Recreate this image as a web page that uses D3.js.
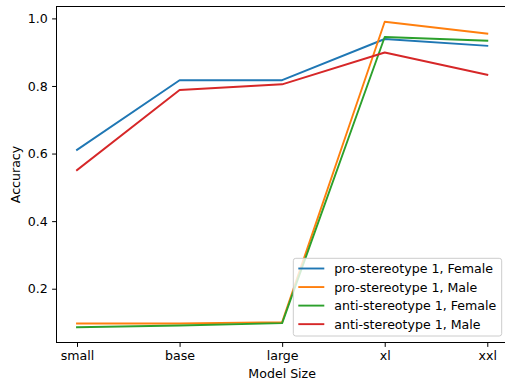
<!DOCTYPE html>
<html>
<head>
<meta charset="utf-8">
<script src="https://cdn.jsdelivr.net/npm/d3@7"></script>
<style>
  html, body { margin: 0; padding: 0; background: #fff; }
  svg { display: block; font-family: "DejaVu Sans", sans-serif; }
</style>
</head>
<body>
<svg id="chart" width="505" height="385"></svg>
<script>
// Model sizes along the x axis
const categories = ["small", "base", "large", "xl", "xxl"];

// Accuracy per model size for each group
const proFemale  = [0.611, 0.817, 0.817, 0.939, 0.919];
const proMale    = [0.097, 0.097, 0.101, 0.990, 0.955];
const antiFemale = [0.086, 0.091, 0.098, 0.945, 0.934];
const antiMale   = [0.551, 0.788, 0.805, 0.899, 0.833];

const seriesNames  = ["pro-stereotype 1, Female", "pro-stereotype 1, Male",
                      "anti-stereotype 1, Female", "anti-stereotype 1, Male"];
const seriesValues = [proFemale, proMale, antiFemale, antiMale];
const seriesColors = ["#1f77b4", "#ff7f0e", "#2ca02c", "#d62728"];

const yTicks = [0.2, 0.4, 0.6, 0.8, 1.0];

const svg = d3.select("#chart");
const fontSize = 12.6;

// plot area
const plotLeft = 56.5, plotRight = 507.8, plotTop = 6.5, plotBottom = 342.5;

const x = d3.scaleLinear().domain([-0.2, 4.2]).range([plotLeft, plotRight]);
const allVals = seriesValues.flat();
const yMin = d3.min(allVals), yMax = d3.max(allVals);
const pad = (yMax - yMin) * 0.05;
const y = d3.scaleLinear().domain([yMin - pad, yMax + pad]).range([plotBottom, plotTop]);

// lines
const line = d3.line().x((d, i) => x(i)).y(d => y(d));
seriesValues.forEach((vals, k) => {
  svg.append("path")
    .datum(vals)
    .attr("d", line)
    .attr("fill", "none")
    .attr("stroke", seriesColors[k])
    .attr("stroke-width", 1.9)
    .attr("stroke-linejoin", "round")
    .attr("stroke-linecap", "square");
});

// x axis
const xAxis = d3.axisBottom(x)
  .tickValues(d3.range(categories.length))
  .tickFormat(i => categories[i])
  .tickSize(4.4).tickPadding(4.4);
const gx = svg.append("g").attr("transform", `translate(0,${plotBottom})`).call(xAxis);
gx.select(".domain").remove();
gx.selectAll(".tick line").attr("stroke", "#000").attr("stroke-width", 1);
gx.selectAll(".tick text").attr("font-size", fontSize).attr("font-family", "DejaVu Sans").attr("fill", "#000");

// y axis
const yAxis = d3.axisLeft(y)
  .tickValues(yTicks)
  .tickFormat(d3.format(".1f"))
  .tickSize(4.4).tickPadding(4.4);
const gy = svg.append("g").attr("transform", `translate(${plotLeft},0)`).call(yAxis);
gy.select(".domain").remove();
gy.selectAll(".tick line").attr("stroke", "#000").attr("stroke-width", 1);
gy.selectAll(".tick text").attr("font-size", fontSize).attr("font-family", "DejaVu Sans").attr("fill", "#000");

// spines
svg.append("rect")
  .attr("x", plotLeft).attr("y", plotTop)
  .attr("width", plotRight - plotLeft).attr("height", plotBottom - plotTop)
  .attr("fill", "none").attr("stroke", "#000").attr("stroke-width", 1);

// axis titles
svg.append("text")
  .attr("x", (plotLeft + plotRight) / 2).attr("y", 378)
  .attr("text-anchor", "middle").attr("font-size", fontSize)
  .text("Model Size");
svg.append("text")
  .attr("transform", `translate(19.5,${(plotTop + plotBottom) / 2}) rotate(-90)`)
  .attr("text-anchor", "middle").attr("font-size", fontSize)
  .text("Accuracy");

// legend
const lg = svg.append("g");
lg.append("rect")
  .attr("x", 293.3).attr("y", 258.3)
  .attr("width", 208.4).attr("height", 77.7)
  .attr("rx", 2.5)
  .attr("fill", "#fff").attr("fill-opacity", 0.8)
  .attr("stroke", "#cccccc").attr("stroke-width", 1);
seriesNames.forEach((name, k) => {
  const cy = 268.5 + k * 18.55;
  lg.append("line")
    .attr("x1", 298.3).attr("x2", 324.3)
    .attr("y1", cy).attr("y2", cy)
    .attr("stroke", seriesColors[k]).attr("stroke-width", 1.9);
  lg.append("text")
    .attr("x", 334.3).attr("y", cy + 4.5)
    .attr("font-size", fontSize)
    .text(name);
});
</script>
</body>
</html>
